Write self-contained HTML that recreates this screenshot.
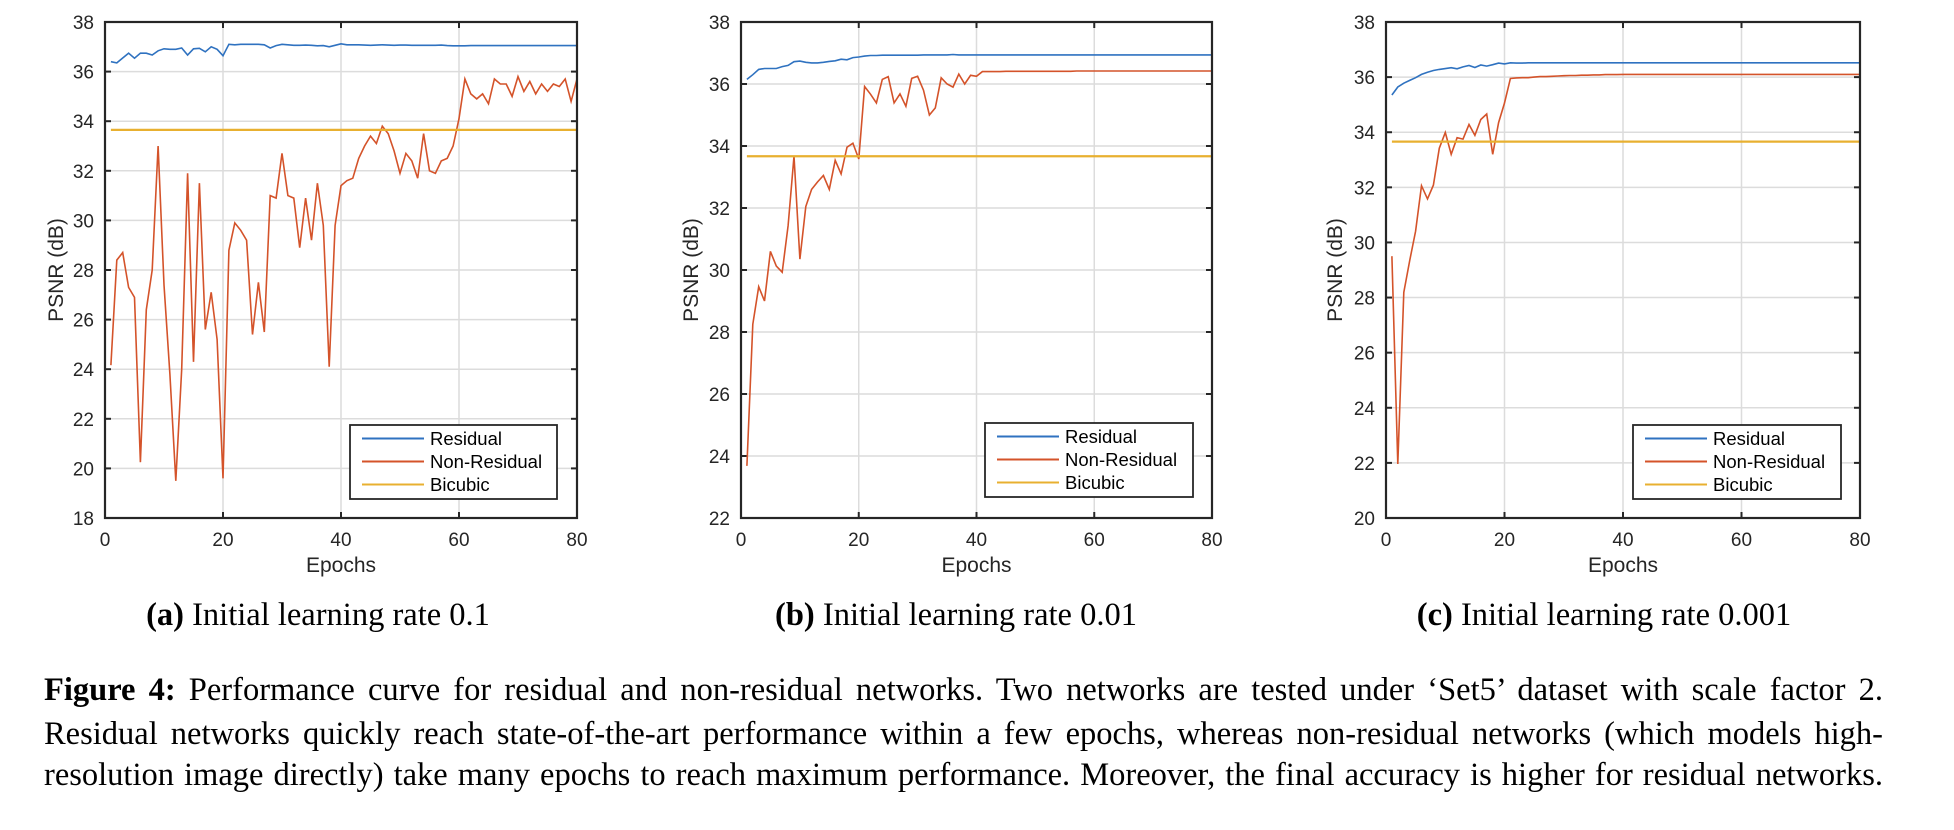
<!DOCTYPE html>
<html><head><meta charset="utf-8">
<style>
html,body{margin:0;padding:0;background:#fff;}
body{width:1954px;height:830px;position:relative;overflow:hidden;font-family:"Liberation Sans",Arial,sans-serif;}
svg{position:absolute;left:0;top:0;}
.cap{position:absolute;font-family:"Liberation Serif","Times New Roman",serif;font-size:32.5px;line-height:36px;color:#000;white-space:nowrap;transform:translateX(-50%);}
.fl{position:absolute;left:44px;width:1839px;font-family:"Liberation Serif","Times New Roman",serif;font-size:32.5px;line-height:36px;text-align:justify;text-align-last:justify;color:#000;white-space:nowrap;}
</style></head>
<body>
<svg id="chart" width="1954" height="640"></svg>
<div class="cap" style="left:318px;top:597px"><b>(a)</b> Initial learning rate 0.1</div>
<div class="cap" style="left:956px;top:597px"><b>(b)</b> Initial learning rate 0.01</div>
<div class="cap" style="left:1604px;top:597px"><b>(c)</b> Initial learning rate 0.001</div>
<div>
<div class="fl" style="top:672px"><b>Figure 4:</b> Performance curve for residual and non-residual networks. Two networks are tested under ‘Set5’ dataset with scale factor 2.</div>
<div class="fl" style="top:716px">Residual networks quickly reach state-of-the-art performance within a few epochs, whereas non-residual networks (which models high-</div>
<div class="fl" style="top:757px">resolution image directly) take many epochs to reach maximum performance. Moreover, the final accuracy is higher for residual networks.</div>
</div>
<script>
const xTicks=[0,20,40,60,80];
const yTicksA=[18,20,22,24,26,28,30,32,34,36,38];
const yTicksB=[22,24,26,28,30,32,34,36,38];
const yTicksC=[20,22,24,26,28,30,32,34,36,38];
const legendLabels=["Residual","Non-Residual","Bicubic"];
const nonResA=[24.16,28.4,28.7,27.3,26.9,20.25,26.4,28.0,33.0,27.4,23.8,19.5,24.0,31.9,24.3,31.5,25.6,27.1,25.2,19.6,28.8,29.9,29.6,29.2,25.4,27.5,25.5,31.0,30.9,32.7,31.0,30.9,28.9,30.9,29.2,31.5,29.8,24.1,29.8,31.4,31.6,31.7,32.5,33.0,33.4,33.1,33.8,33.5,32.8,31.9,32.7,32.4,31.7,33.5,32.0,31.9,32.4,32.5,33.0,34.1,35.7,35.1,34.9,35.1,34.7,35.7,35.5,35.5,35.0,35.8,35.2,35.6,35.1,35.5,35.2,35.5,35.4,35.7,34.8,35.7];
const resA=[36.4,36.35,36.55,36.74,36.54,36.74,36.74,36.67,36.84,36.92,36.9,36.9,36.95,36.67,36.92,36.94,36.8,37.0,36.9,36.64,37.1,37.08,37.1,37.1,37.1,37.1,37.08,36.95,37.05,37.1,37.08,37.06,37.06,37.07,37.06,37.04,37.05,37.0,37.06,37.12,37.08,37.08,37.08,37.07,37.06,37.07,37.08,37.07,37.06,37.07,37.07,37.06,37.06,37.06,37.06,37.06,37.07,37.05,37.04,37.04,37.04,37.05,37.05,37.05,37.05,37.05,37.05,37.05,37.05,37.05,37.05,37.05,37.05,37.05,37.05,37.05,37.05,37.05,37.05,37.05];
const bicA=33.65;
const nonResB=[23.68,28.25,29.46,29.0,30.6,30.13,29.93,31.43,33.67,30.35,32.05,32.6,32.84,33.05,32.6,33.54,33.1,33.96,34.09,33.58,35.92,35.67,35.39,36.15,36.24,35.39,35.68,35.28,36.18,36.25,35.8,35.0,35.23,36.2,36.0,35.9,36.32,36.0,36.28,36.25,36.4,36.4,36.4,36.4,36.41,36.41,36.41,36.41,36.41,36.41,36.41,36.41,36.41,36.41,36.41,36.41,36.42,36.42,36.42,36.42,36.42,36.42,36.42,36.42,36.42,36.42,36.42,36.42,36.42,36.42,36.42,36.42,36.42,36.42,36.42,36.42,36.42,36.42,36.42,36.42];
const resB=[36.15,36.3,36.47,36.5,36.5,36.5,36.56,36.6,36.72,36.74,36.7,36.68,36.68,36.7,36.73,36.75,36.8,36.78,36.85,36.87,36.9,36.92,36.92,36.93,36.93,36.93,36.93,36.93,36.93,36.93,36.94,36.94,36.94,36.94,36.94,36.95,36.94,36.94,36.94,36.94,36.94,36.94,36.94,36.94,36.94,36.94,36.94,36.94,36.94,36.94,36.94,36.94,36.94,36.94,36.94,36.94,36.94,36.94,36.94,36.94,36.94,36.94,36.94,36.94,36.94,36.94,36.94,36.94,36.94,36.94,36.94,36.94,36.94,36.94,36.94,36.94,36.94,36.94,36.94,36.94];
const bicB=33.67;
const nonResC=[29.5,21.96,28.19,29.34,30.41,32.06,31.58,32.08,33.42,33.99,33.2,33.8,33.75,34.28,33.89,34.46,34.66,33.2,34.35,35.06,35.95,35.97,35.98,35.98,36.0,36.02,36.02,36.03,36.04,36.05,36.06,36.06,36.07,36.07,36.08,36.08,36.09,36.09,36.09,36.1,36.1,36.1,36.1,36.1,36.1,36.1,36.1,36.1,36.1,36.1,36.1,36.1,36.1,36.1,36.1,36.1,36.1,36.1,36.1,36.1,36.1,36.1,36.1,36.1,36.1,36.1,36.1,36.1,36.1,36.1,36.1,36.1,36.1,36.1,36.1,36.1,36.1,36.1,36.1,36.1];
const resC=[35.35,35.64,35.78,35.88,35.98,36.1,36.18,36.24,36.28,36.31,36.34,36.3,36.37,36.42,36.35,36.44,36.4,36.45,36.51,36.48,36.52,36.51,36.51,36.52,36.52,36.52,36.52,36.52,36.52,36.52,36.52,36.52,36.52,36.52,36.52,36.52,36.52,36.52,36.52,36.52,36.52,36.52,36.52,36.52,36.52,36.52,36.52,36.52,36.52,36.52,36.52,36.52,36.52,36.52,36.52,36.52,36.52,36.52,36.52,36.52,36.52,36.52,36.52,36.52,36.52,36.52,36.52,36.52,36.52,36.52,36.52,36.52,36.52,36.52,36.52,36.52,36.52,36.52,36.52,36.52];
const bicC=33.66;

const NS="http://www.w3.org/2000/svg";
const svg=document.getElementById('chart');
function mk(tag,attrs,parent){const e=document.createElementNS(NS,tag);for(const k in attrs)e.setAttribute(k,attrs[k]);(parent||svg).appendChild(e);return e;}
const COL=["#2f72c0","#d4532a","#e8b030"];
const panels=[
 {id:"a",L:105,R:577,T:22,B:518,yTicks:yTicksA,res:resA,non:nonResA,bic:bicA,ylab:55,leg:[350,425,207,74]},
 {id:"b",L:741,R:1212,T:22,B:518,yTicks:yTicksB,res:resB,non:nonResB,bic:bicB,ylab:690,leg:[985,423,208,74]},
 {id:"c",L:1386,R:1860,T:22,B:518,yTicks:yTicksC,res:resC,non:nonResC,bic:bicC,ylab:1334,leg:[1633,425,208,74]}
];
panels.forEach(p=>{
 const g=mk('g',{});
 
 
 const y0=p.yTicks[0],y1=p.yTicks[p.yTicks.length-1];
 const sx=v=>p.L+(v-xTicks[0])/(xTicks[xTicks.length-1]-xTicks[0])*(p.R-p.L);
 const sy=v=>p.B-(v-y0)/(y1-y0)*(p.B-p.T);
 xTicks.forEach(t=>{
  const l=mk('line',{x1:sx(t),x2:sx(t),y1:p.T,y2:p.B,stroke:"#dcdcdc","stroke-width":1.5},g);
  
  
  mk('line',{x1:sx(t),x2:sx(t),y1:p.B,y2:p.B-6,stroke:"#262626","stroke-width":2},g);
  mk('line',{x1:sx(t),x2:sx(t),y1:p.T,y2:p.T+6,stroke:"#262626","stroke-width":2},g);
  const tx=mk('text',{x:sx(t),y:p.B+28,"text-anchor":"middle","font-size":19,fill:"#262626"},g);
  tx.textContent=t;
  
  
 });
 p.yTicks.forEach(t=>{
  const l=mk('line',{x1:p.L,x2:p.R,y1:sy(t),y2:sy(t),stroke:"#dcdcdc","stroke-width":1.5},g);
  
  
  mk('line',{x1:p.L,x2:p.L+6,y1:sy(t),y2:sy(t),stroke:"#262626","stroke-width":2},g);
  mk('line',{x1:p.R,x2:p.R-6,y1:sy(t),y2:sy(t),stroke:"#262626","stroke-width":2},g);
  const tx=mk('text',{x:p.L-11,y:sy(t)+7,"text-anchor":"end","font-size":19,fill:"#262626"},g);
  tx.textContent=t;
  
  
 });
 const clip=mk('clipPath',{id:'clip'+p.id},g);
 mk('rect',{x:p.L,y:p.T,width:p.R-p.L,height:p.B-p.T},clip);
 const series=[p.res,p.non];
 const names=['residual-line','non-residual-line'];
 series.forEach((s,i)=>{
  const d=s.map((v,k)=>(k?'L':'M')+sx(k+1).toFixed(1)+','+sy(v).toFixed(1)).join(' ');
  const path=mk('path',{d:d,fill:"none",stroke:COL[i],"stroke-width":1.6,"clip-path":"url(#clip"+p.id+")"},g);
  
  
 });
 const bl=mk('line',{x1:sx(1),x2:p.R,y1:sy(p.bic),y2:sy(p.bic),stroke:COL[2],"stroke-width":2.2},g);
 
 
 const box=mk('rect',{x:p.L,y:p.T,width:p.R-p.L,height:p.B-p.T,fill:"none",stroke:"#262626","stroke-width":2.2},g);
 
 
 const xl=mk('text',{x:(p.L+p.R)/2,y:p.B+54,"text-anchor":"middle","font-size":21,fill:"#262626"},g);
 xl.textContent="Epochs";
 
 
 const yl=mk('text',{x:0,y:0,"text-anchor":"middle","font-size":21,fill:"#262626",transform:`translate(${p.ylab+8},${(p.T+p.B)/2}) rotate(-90)`},g);
 yl.textContent="PSNR (dB)";
 
 
 const [lx,ly,lw,lh]=p.leg;
 const lg=mk('g',{},g);
 
 
 mk('rect',{x:lx,y:ly,width:lw,height:lh,fill:"#fff",stroke:"#262626","stroke-width":1.8},lg);
 legendLabels.forEach((lab,i)=>{
  const yy=ly+13.5+i*23;
  const ln=mk('line',{x1:lx+12,x2:lx+74,y1:yy,y2:yy,stroke:COL[i],"stroke-width":2},lg);
  
  
  const t=mk('text',{x:lx+80,y:yy+6.5,"font-size":18.5,fill:"#000"},lg);
  t.textContent=lab;
  
  
 });
});
</script>
</body></html>
